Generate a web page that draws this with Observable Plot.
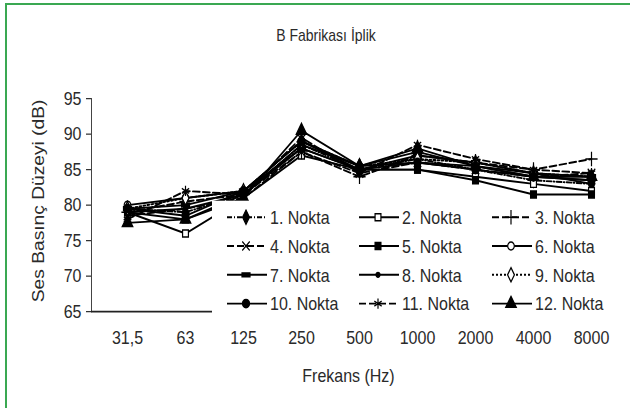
<!DOCTYPE html>
<html>
<head>
<meta charset="utf-8">
<script src="https://cdn.jsdelivr.net/npm/d3@7"></script>
<script src="https://cdn.jsdelivr.net/npm/@observablehq/plot@0.6"></script>
<style>
  html, body { margin: 0; padding: 0; background: #fff; }
  #page { position: relative; width: 630px; height: 408px; overflow: hidden; background: #fff; }
  #border { position: absolute; left: 5px; top: 3px; width: 640px; height: 420px;
            border-left: 2px solid #3aa852; border-top: 2px solid #3aa852; }
  /* the figure is laid out at 630x340 and stretched vertically */
  #figure { position: absolute; left: 0; top: 0; width: 630px; height: 340px;
            transform: scaleY(1.2); transform-origin: 0 0;
            font-family: "Liberation Sans", Arial, sans-serif; color: #2a2a2a; }
  #title { position: absolute; left: 0; width: 652px; top: 21.6px; text-align: center;
           font-size: 14px; line-height: 14px; }
  #chart { position: absolute; left: 0; top: 50px; }
  #legend { position: absolute; left: 212px; top: 167px; }
</style>
</head>
<body>
<div id="page">
  <div id="border"></div>
  <div id="figure">
    <div id="title">B Fabrikası İplik</div>
    <div id="chart"></div>
    <div id="legend"></div>
  </div>
</div>
<script>
// Octave-band centre frequencies (Hz)
const frequencies = ["31,5", "63", "125", "250", "500", "1000", "2000", "4000", "8000"];
const seriesNames = ["1. Nokta", "2. Nokta", "3. Nokta", "4. Nokta", "5. Nokta", "6. Nokta",
                     "7. Nokta", "8. Nokta", "9. Nokta", "10. Nokta", "11. Nokta", "12. Nokta"];
const yTicks = [65, 70, 75, 80, 85, 90, 95];

// Sound pressure level (dB) at each measuring point
const nokta1  = [79.5, 79.0, 81.5, 88.5, 85.0, 86.5, 85.0, 83.5, 83.0];
const nokta2  = [79.0, 76.0, 81.0, 87.0, 85.0, 85.0, 84.0, 83.0, 82.0];
const nokta3  = [79.0, 80.5, 81.5, 87.5, 84.0, 87.0, 86.0, 85.0, 86.5];
const nokta4  = [78.5, 79.5, 81.0, 87.5, 84.5, 86.0, 85.0, 84.0, 84.5];
const nokta5  = [79.0, 78.0, 81.5, 88.0, 85.0, 85.0, 83.5, 81.5, 81.5];
const nokta6  = [80.0, 81.0, 82.0, 89.0, 85.5, 86.0, 85.5, 84.0, 83.5];
const nokta7  = [79.5, 80.0, 82.0, 88.0, 85.0, 87.0, 86.0, 84.5, 84.0];
const nokta8  = [79.0, 79.5, 81.5, 88.5, 85.5, 87.5, 85.5, 84.5, 83.0];
const nokta9  = [79.5, 81.0, 82.0, 89.0, 85.5, 86.5, 86.0, 84.5, 84.0];
const nokta10 = [79.5, 78.5, 82.0, 89.0, 85.0, 86.0, 85.0, 84.0, 83.5];
const nokta11 = [78.0, 82.0, 81.5, 89.5, 84.5, 88.5, 86.5, 85.0, 84.5];
const nokta12 = [77.5, 78.0, 81.0, 90.5, 85.5, 88.0, 85.5, 84.0, 84.0];
const seriesValues = [nokta1, nokta2, nokta3, nokta4, nokta5, nokta6,
                      nokta7, nokta8, nokta9, nokta10, nokta11, nokta12];

// Marker drawn as a short thick bar
const barSymbol = {
  draw(context, size) {
    const r = Math.sqrt(size / Math.PI);
    context.rect(-r, -r * 0.4, 2 * r, r * 0.8);
  }
};

// Per-series marker and line styling
const symbols = ["diamond", "square", "plus", "times", "square", "circle",
                 barSymbol, "circle", "diamond", "circle", "asterisk", "triangle"];
const fills   = ["black", "white", "none", "none", "black", "white",
                 "black", "black", "white", "black", "none", "black"];
const radii   = [3.6, 3.3, 4, 3.5, 3.3, 3.3, 4, 2, 3.6, 3.5, 4, 3.9];
const dashes  = ["5,2,1,2", null, "7,3", "7,3", null, null, null, null, "2,2", null, "7,3", null];

const rows = seriesNames.flatMap((name, i) =>
  frequencies.map((f, j) => ({series: name, freq: f, db: seriesValues[i][j]})));

const lineMarks = seriesNames.map((name, i) =>
  Plot.line(rows.filter(d => d.series === name), {
    x: "freq", y: "db", stroke: "black", strokeWidth: 1.6,
    strokeDasharray: dashes[i] ?? undefined
  }));

const dotMarks = seriesNames.map((name, i) =>
  Plot.dot(rows.filter(d => d.series === name), {
    x: "freq", y: "db", symbol: symbols[i], r: radii[i],
    fill: fills[i], stroke: "black", strokeWidth: 1.2
  }));

const chart = Plot.plot({
  width: 630,
  height: 290,
  marginLeft: 91,
  marginRight: 6,
  marginTop: 31.7,
  marginBottom: 80.8,
  style: {fontFamily: "Liberation Sans, Arial, sans-serif", fontSize: "16px", color: "#2a2a2a", background: "transparent", overflow: "visible"},
  x: {type: "point", domain: frequencies, range: [124, 594], padding: 0},
  y: {domain: [65, 95]},
  marks: [
    Plot.frame({anchor: "left", stroke: "#444"}),
    Plot.ruleY([65], {stroke: "#222", strokeWidth: 1.4}),
    Plot.axisY({ticks: yTicks, tickSize: 5, tickPadding: 5, label: null, fontSize: 16}),
    Plot.axisX({tickSize: 0, tickPadding: 16, label: null, fontSize: 16}),
    ...lineMarks,
    ...dotMarks,
    Plot.text(["Ses Basınç Düzeyi (dB)"], {frameAnchor: "left", textAnchor: "middle", lineAnchor: "middle",
      rotate: -90, dx: -53, dy: -3.5, fontSize: 16}),
    Plot.text(["Frekans (Hz)"], {frameAnchor: "bottom", textAnchor: "middle", lineAnchor: "middle",
      dx: -9.5, dy: 53.3, fontSize: 16})
  ]
});
document.getElementById("chart").appendChild(chart);

// Legend: three columns, four rows
const legendW = 418, legendH = 98;
const legend = d3.select("#legend").append("svg")
  .attr("width", legendW).attr("height", legendH)
  .style("font-family", "Liberation Sans, Arial, sans-serif").style("font-size", "16px");
legend.append("rect").attr("width", legendW).attr("height", legendH).attr("fill", "white");
const colX = [15, 147, 280];
const symbolTypes = {circle: d3.symbolCircle, square: d3.symbolSquare, diamond: d3.symbolDiamond,
  plus: d3.symbolPlus, times: d3.symbolTimes, asterisk: d3.symbolAsterisk, triangle: d3.symbolTriangle};
seriesNames.forEach((name, i) => {
  const col = i % 3, row = Math.floor(i / 3);
  const x0 = colX[col], y0 = 14 + row * 24;
  const g = legend.append("g").attr("transform", `translate(${x0},${y0})`);
  g.append("line").attr("x1", 0).attr("x2", 40).attr("stroke", "black").attr("stroke-width", 1.6)
    .attr("stroke-dasharray", dashes[i]);
  const type = typeof symbols[i] === "string" ? symbolTypes[symbols[i]] : symbols[i];
  g.append("path").attr("transform", "translate(19,0)")
    .attr("d", d3.symbol(type, radii[i] * radii[i] * Math.PI)())
    .attr("fill", fills[i]).attr("stroke", "black").attr("stroke-width", 1.2);
  g.append("text").attr("x", 43).attr("dy", "0.35em").attr("fill", "#2a2a2a").text(name);
});
</script>
</body>
</html>
